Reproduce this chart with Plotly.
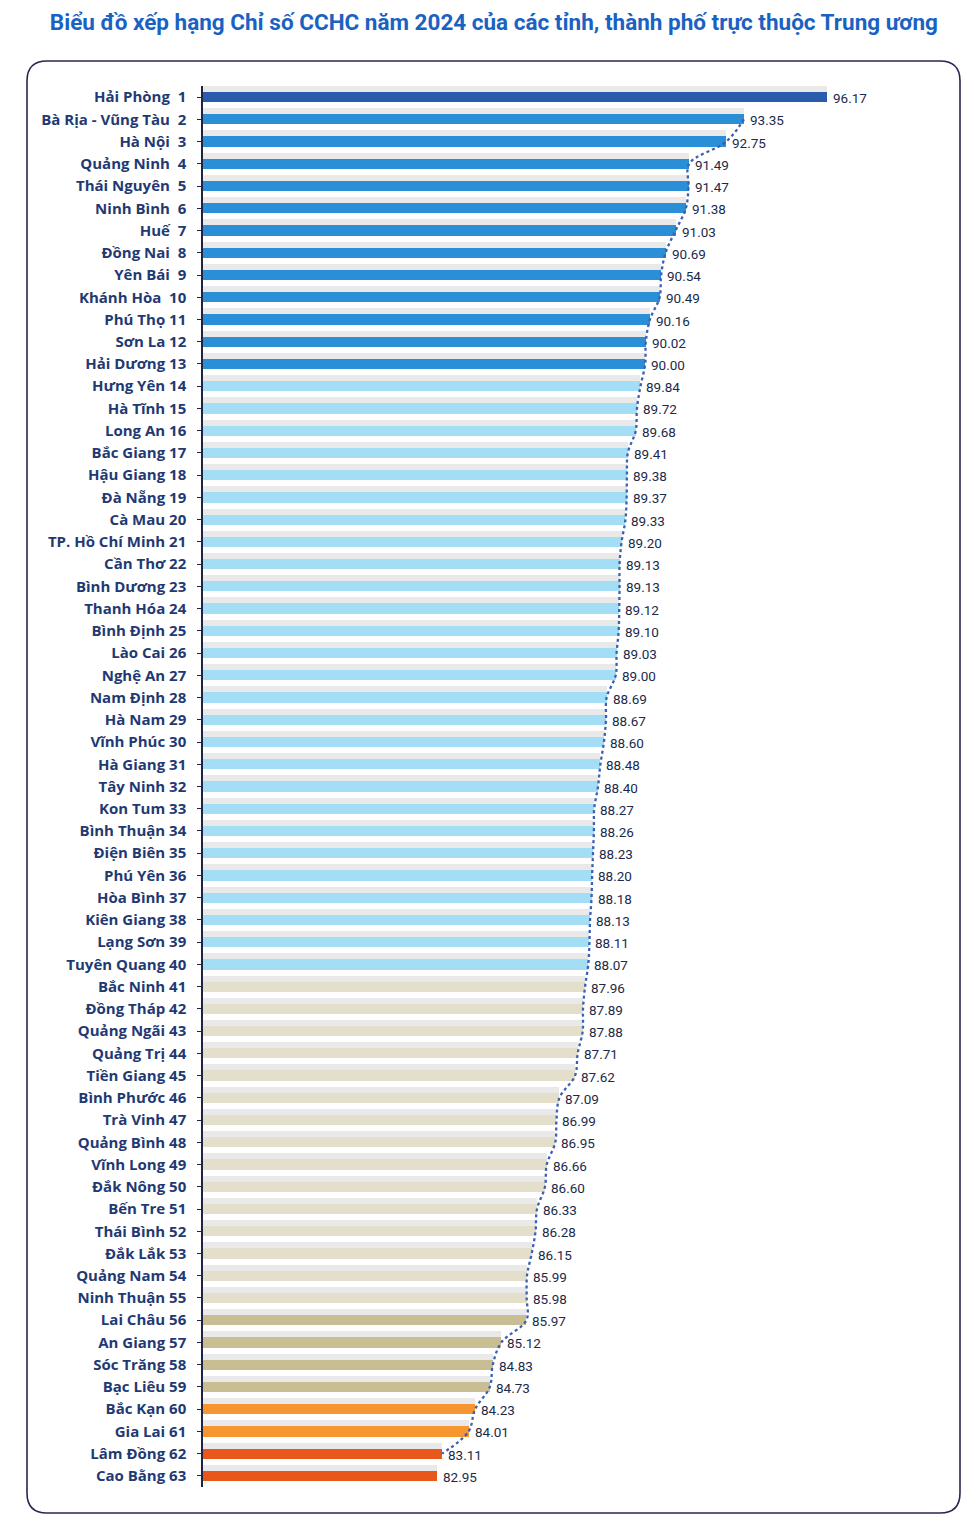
import plotly.graph_objects as go

provinces = ["Hải Phòng", "Bà Rịa - Vũng Tàu", "Hà Nội", "Quảng Ninh", "Thái Nguyên", "Ninh Bình",
             "Huế", "Đồng Nai", "Yên Bái", "Khánh Hòa", "Phú Thọ", "Sơn La", "Hải Dương",
             "Hưng Yên", "Hà Tĩnh", "Long An", "Bắc Giang", "Hậu Giang", "Đà Nẵng", "Cà Mau",
             "TP. Hồ Chí Minh", "Cần Thơ", "Bình Dương", "Thanh Hóa", "Bình Định", "Lào Cai",
             "Nghệ An", "Nam Định", "Hà Nam", "Vĩnh Phúc", "Hà Giang", "Tây Ninh", "Kon Tum",
             "Bình Thuận", "Điện Biên", "Phú Yên", "Hòa Bình", "Kiên Giang", "Lạng Sơn",
             "Tuyên Quang", "Bắc Ninh", "Đồng Tháp", "Quảng Ngãi", "Quảng Trị", "Tiền Giang",
             "Bình Phước", "Trà Vinh", "Quảng Bình", "Vĩnh Long", "Đắk Nông", "Bến Tre",
             "Thái Bình", "Đắk Lắk", "Quảng Nam", "Ninh Thuận", "Lai Châu", "An Giang",
             "Sóc Trăng", "Bạc Liêu", "Bắc Kạn", "Gia Lai", "Lâm Đồng", "Cao Bằng"]

values = [96.17, 93.35, 92.75, 91.49, 91.47, 91.38, 91.03, 90.69, 90.54, 90.49, 90.16, 90.02,
          90.00, 89.84, 89.72, 89.68, 89.41, 89.38, 89.37, 89.33, 89.20, 89.13, 89.13, 89.12,
          89.10, 89.03, 89.00, 88.69, 88.67, 88.60, 88.48, 88.40, 88.27, 88.26, 88.23, 88.20,
          88.18, 88.13, 88.11, 88.07, 87.96, 87.89, 87.88, 87.71, 87.62, 87.09, 86.99, 86.95,
          86.66, 86.60, 86.33, 86.28, 86.15, 85.99, 85.98, 85.97, 85.12, 84.83, 84.73, 84.23,
          84.01, 83.11, 82.95]

ranks = list(range(1, 64))
value_labels = [f"{v:.2f}" for v in values]
tick_labels = [f"{p}  {r}" if r <= 10 else f"{p} {r}" for p, r in zip(provinces, ranks)]

# color groups (rank ranges)
group_colors = [(1, 1, "#2a5bad"), (2, 13, "#2b8fd7"), (14, 40, "#a3def6"),
                (41, 55, "#e4dfca"), (56, 59, "#c9bd94"), (60, 61, "#f79631"),
                (62, 63, "#e9581b")]


def color_for(r):
    for a, b, c in group_colors:
        if a <= r <= b:
            return c
    return "#999"


bar_colors = [color_for(r) for r in ranks]

W, H = 977, 1532
PL, PR, PT, PB = 203, 940, 86, 1487

fig = go.Figure()

# shadow bands
fig.add_trace(go.Bar(
    x=values, y=[r - 0.36 for r in ranks], orientation="h", width=0.28,
    marker=dict(color="#e9e9e9", line=dict(width=0)), hoverinfo="skip", showlegend=False))

# main bars
fig.add_trace(go.Bar(
    x=values, y=ranks, orientation="h", width=0.46,
    marker=dict(color=bar_colors, line=dict(width=0)),
    hoverinfo="x+y", showlegend=False))

# dotted trend line through bar ends
fig.add_trace(go.Scatter(
    x=values[1:62], y=ranks[1:62], mode="lines",
    line=dict(color="#3a5fb3", width=2.3, dash="dot", shape="spline", smoothing=1.0),
    hoverinfo="skip", showlegend=False))

# value labels
for v, r, t in zip(values, ranks, value_labels):
    fig.add_annotation(x=v, y=r, text=t, showarrow=False, xanchor="left", yanchor="middle",
                       xshift=4, yshift=-1,
                       font=dict(family="Roboto, sans-serif", size=13.5, color="#1c2a4a"))


def px2paper(x, y):
    return (x - PL) / (PR - PL), (PB - y) / (PB - PT)


def P(x, y):
    a, b = px2paper(x, y)
    return f"{a:.5f},{b:.5f}"


# rounded border
bx0, bx1, by0, by1, rad = 27, 960, 61, 1513, 20
path = (f"M {P(bx0 + rad, by0)} L {P(bx1 - rad, by0)} Q {P(bx1, by0)} {P(bx1, by0 + rad)} "
        f"L {P(bx1, by1 - rad)} Q {P(bx1, by1)} {P(bx1 - rad, by1)} "
        f"L {P(bx0 + rad, by1)} Q {P(bx0, by1)} {P(bx0, by1 - rad)} "
        f"L {P(bx0, by0 + rad)} Q {P(bx0, by0)} {P(bx0 + rad, by0)} Z")
fig.add_shape(type="path", xref="paper", yref="paper", path=path,
              line=dict(color="#27284f", width=1.6), layer="below")

fig.update_layout(
    width=W, height=H,
    margin=dict(l=PL, r=W - PR, t=PT, b=H - PB, pad=0),
    paper_bgcolor="white", plot_bgcolor="white",
    barmode="overlay", bargap=0,
    title=dict(text="<b>Biểu đồ xếp hạng Chỉ số CCHC năm 2024 của các tỉnh, thành phố trực thuộc Trung ương</b>",
               x=0.5055, xanchor="center", y=1 - 22 / H, yanchor="middle",
               font=dict(family="Roboto, sans-serif", size=22.5, color="#1a62c2")),
    xaxis=dict(range=[75, 100], visible=False, fixedrange=True),
    yaxis=dict(range=[63.5, 0.5], tickmode="array", tickvals=ranks, ticktext=tick_labels,
               showgrid=False, zeroline=False, showline=True, linecolor="#1f2444", linewidth=1.5,
               ticks="outside", ticklen=4, tickcolor="#1f2444", tickwidth=1,
               ticklabelstandoff=8, fixedrange=True,
               tickfont=dict(family="Open Sans, sans-serif", size=15, color="#1f3a73", weight=700)),
)

fig.write_html("out.html", config={"displayModeBar": False},
               post_script="document.body.style.margin='0';")
